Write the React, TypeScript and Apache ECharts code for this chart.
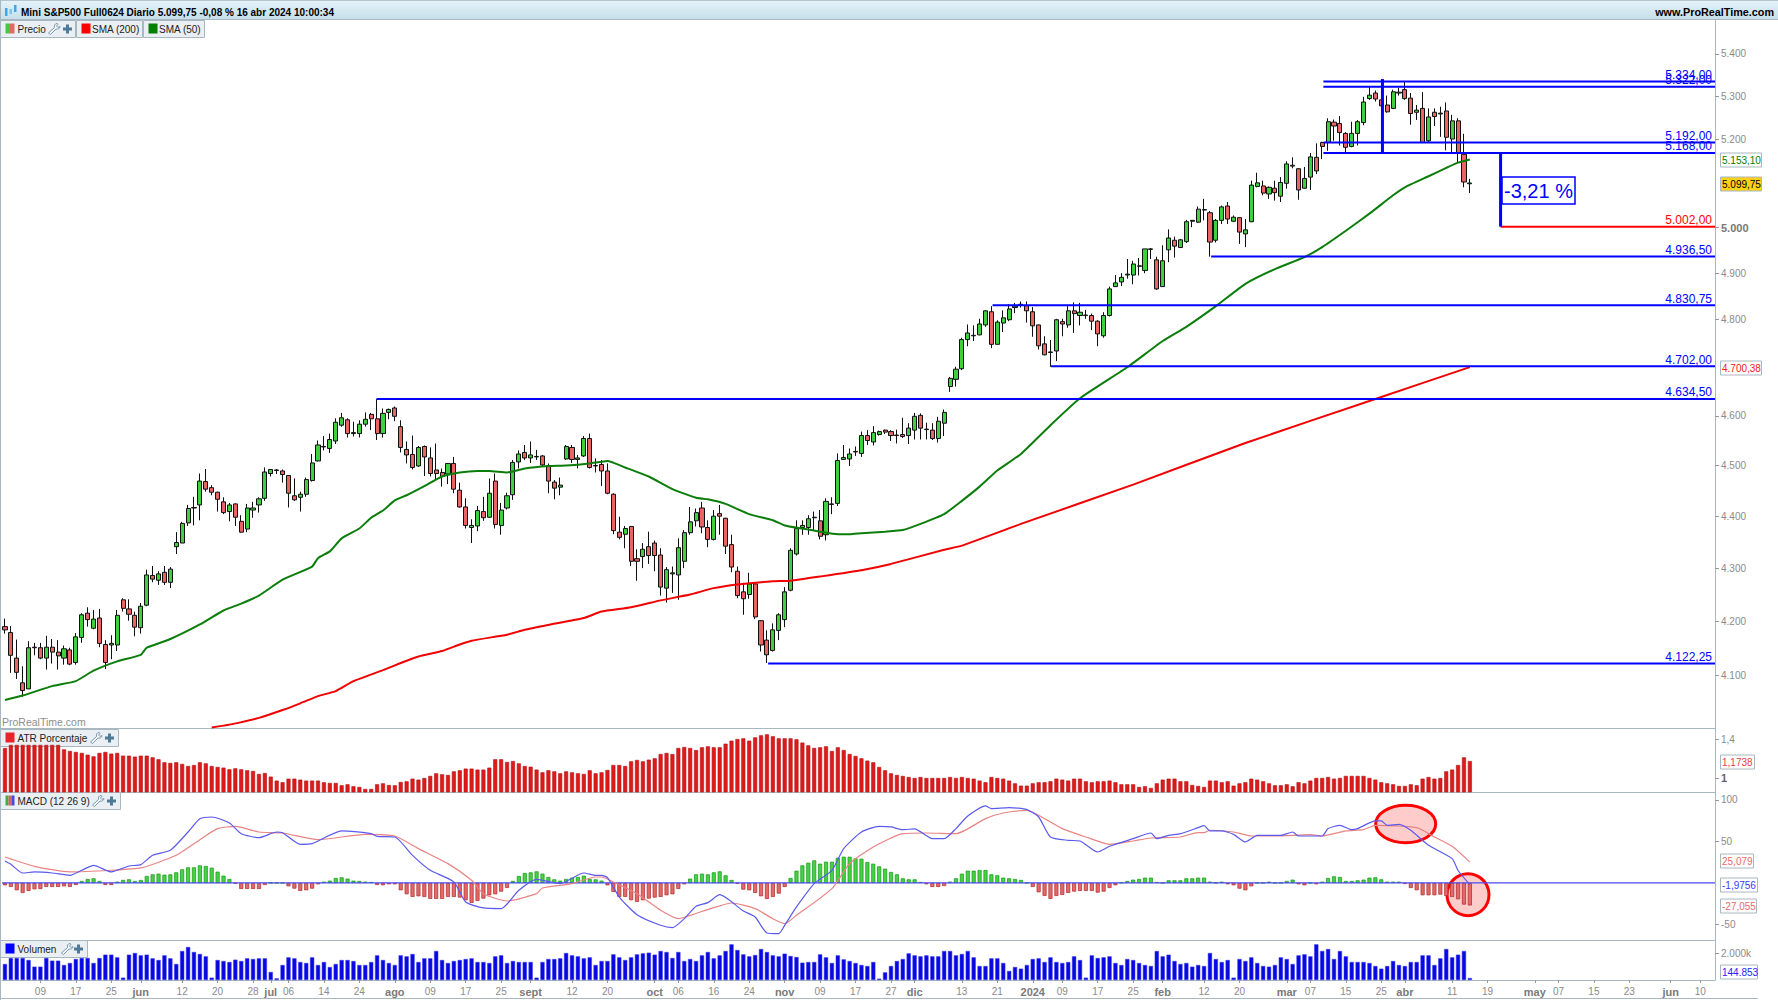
import React, { useEffect, useRef } from "react";
import * as echarts from "echarts";

const opens = [4190,4179,4132,4087,4076,4151,4151,4132,4152,4143,
4132,4147,4124,4170,4215,4187,4206,4157,4156,4156,
4240,4223,4211,4188,4230,4286,4277,4292,4273,4341,
4348,4387,4416,4422,4468,4456,4447,4428,4409,4424,
4390,4375,4412,4422,4435,4484,4490,4489,4480,4440,
4437,4443,4470,4509,4537,4534,4549,4581,4592,4564,
4564,4583,4603,4594,4564,4607,4616,4578,4532,4522,
4499,4538,4515,4491,4486,4483,4504,4451,4418,4378,
4381,4409,4398,4469,4382,4416,4442,4507,4526,4515,
4517,4519,4499,4467,4457,4513,4536,4512,4519,4554,
4499,4502,4489,4443,4369,4365,4380,4318,4322,4341,
4348,4325,4262,4289,4287,4313,4368,4391,4416,4378,
4355,4405,4396,4345,4294,4255,4250,4270,4201,4165,
4146,4183,4203,4258,4327,4378,4378,4397,4391,4364,
4423,4425,4512,4513,4527,4524,4560,4547,4562,4571,
4568,4561,4562,4560,4571,4601,4572,4571,4554,4585,
4660,4675,4697,4758,4766,4768,4789,4817,4748,4793,
4800,4826,4831,4830,4817,4789,4749,4732,4734,4796,
4789,4819,4809,4809,4809,4797,4766,4809,4871,4881,
4896,4896,4915,4906,4952,4929,4871,4951,4972,4956,
4969,5014,5012,5039,5033,4972,5016,5048,5014,5022,
4986,5013,5092,5093,5075,5088,5070,5099,5138,5132,
5088,5113,5158,5192,5192,5239,5236,5213,5183,5213,
5238,5294,5307,5291,5279,5271,5307,5315,5295,5262,
5271,5196,5262,5258,5265,5200,5242,5165,5098];

const closes = [4184,4137,4106,4073,4151,4152,4132,4152,4143,4136,
4149,4121,4171,4212,4203,4204,4159,4124,4159,4211,
4224,4213,4189,4228,4287,4279,4289,4273,4298,4349,
4386,4415,4417,4469,4453,4447,4433,4407,4422,4398,
4369,4416,4416,4434,4487,4492,4491,4482,4445,4432,
4443,4472,4505,4541,4538,4552,4587,4596,4564,4566,
4583,4593,4594,4564,4605,4613,4599,4536,4521,4496,
4536,4517,4484,4484,4478,4504,4453,4418,4382,4382,
4411,4397,4445,4384,4412,4440,4506,4523,4515,4521,
4518,4501,4469,4455,4461,4538,4512,4515,4554,4496,
4500,4489,4445,4372,4359,4376,4313,4313,4336,4324,
4324,4264,4297,4291,4339,4368,4389,4407,4379,4355,
4400,4400,4342,4302,4248,4242,4270,4208,4156,4138,
4184,4212,4255,4334,4376,4382,4395,4398,4361,4429,
4424,4510,4516,4523,4528,4560,4550,4566,4568,4567,
4560,4560,4558,4575,4599,4575,4573,4554,4589,4607,
4677,4696,4758,4772,4767,4791,4819,4748,4795,4804,
4823,4829,4833,4819,4787,4745,4726,4731,4800,4791,
4819,4813,4816,4810,4797,4770,4809,4866,4879,4891,
4898,4920,4916,4953,4953,4866,4927,4977,4959,4973,
5013,5016,5041,5040,4968,5016,5046,5019,5023,4990,
4995,5095,5100,5077,5090,5078,5101,5143,5140,5084,
5110,5159,5127,5183,5240,5230,5215,5181,5213,5240,
5286,5302,5293,5277,5263,5310,5309,5294,5259,5267,
5192,5251,5252,5260,5204,5242,5167,5102,5099.75];

const highs = [4205,4191,4166,4117,4163,4160,4160,4173,4167,4165,
4155,4151,4178,4215,4226,4221,4223,4165,4174,4221,
4243,4241,4218,4234,4297,4304,4294,4304,4302,4369,
4389,4422,4438,4484,4493,4461,4448,4437,4426,4425,
4402,4424,4428,4437,4496,4493,4493,4492,4481,4474,
4448,4476,4523,4550,4559,4564,4595,4606,4595,4588,
4591,4607,4606,4634,4615,4615,4619,4591,4548,4560,
4539,4540,4536,4544,4494,4505,4517,4466,4435,4394,
4420,4438,4474,4484,4426,4446,4511,4530,4541,4548,
4531,4521,4504,4471,4476,4541,4541,4521,4559,4564,
4514,4511,4504,4445,4399,4381,4381,4336,4348,4370,
4353,4338,4302,4303,4357,4373,4418,4415,4428,4392,
4412,4422,4397,4364,4303,4272,4291,4272,4202,4183,
4196,4215,4264,4338,4392,4392,4402,4409,4412,4435,
4437,4524,4541,4534,4538,4568,4571,4579,4570,4572,
4571,4572,4596,4585,4606,4605,4586,4585,4598,4613,
4680,4701,4762,4790,4788,4802,4820,4829,4799,4820,
4833,4836,4839,4839,4827,4790,4765,4757,4802,4802,
4829,4837,4836,4821,4813,4799,4816,4871,4896,4900,
4931,4927,4933,4953,4955,4936,4961,4996,4980,4975,
5017,5017,5047,5064,5037,5019,5049,5057,5027,5023,
5019,5105,5123,5105,5092,5105,5113,5149,5158,5133,
5136,5168,5190,5194,5248,5245,5253,5216,5240,5244,
5298,5322,5313,5334,5301,5315,5319,5335,5307,5279,
5309,5271,5271,5275,5285,5256,5248,5212,5109];

const lows = [4177,4105,4094,4062,4076,4137,4130,4111,4122,4111,
4120,4119,4120,4160,4190,4185,4152,4112,4130,4145,
4218,4201,4172,4177,4228,4273,4268,4268,4262,4327,
4348,4381,4382,4392,4448,4441,4409,4404,4390,4381,
4368,4369,4397,4407,4430,4478,4483,4466,4417,4430,
4409,4438,4468,4508,4530,4525,4543,4578,4556,4558,
4556,4578,4571,4551,4556,4593,4589,4526,4504,4492,
4497,4479,4478,4472,4458,4463,4445,4417,4376,4348,
4371,4391,4397,4376,4364,4413,4432,4494,4511,4505,
4511,4499,4445,4433,4441,4511,4505,4494,4517,4494,
4486,4459,4443,4365,4355,4338,4304,4276,4300,4308,
4294,4248,4235,4253,4240,4300,4364,4380,4367,4340,
4353,4364,4327,4292,4243,4212,4242,4204,4144,4123,
4144,4165,4189,4256,4324,4364,4364,4373,4355,4353,
4404,4420,4511,4499,4519,4517,4541,4540,4560,4563,
4549,4544,4555,4543,4552,4552,4552,4551,4546,4559,
4649,4660,4694,4744,4755,4767,4785,4740,4748,4774,
4797,4814,4826,4794,4764,4737,4725,4701,4713,4765,
4783,4772,4788,4802,4778,4744,4762,4807,4870,4872,
4888,4876,4895,4900,4931,4864,4870,4924,4934,4955,
4966,5001,5010,5016,4936,4967,5008,5008,5012,4964,
4957,5012,5090,5072,5064,5060,5057,5087,5133,5062,
5087,5084,5120,5154,5173,5196,5185,5170,5181,5185,
5232,5291,5287,5267,5261,5270,5301,5291,5233,5244,
5192,5192,5230,5205,5174,5168,5147,5090,5077];

const sma50Slots = [0,3,8,12,15,19,23,24,28,33,37,40,43,47,52,53,55,57,60,62,64,66,68,71,74,77,80,82,85,88,92,95,99,102,105,109,113,117,119,122,126,130,132,135,138,141,143,145,149,152,155,159,162,165,168,172,177,182,190,196,200,205,210,215,220,223,227,231,235,237,241,244,246,248];
const sma50Values = [4056,4064,4081,4090,4109,4126,4138,4151,4167,4194,4220,4233,4248,4278,4303,4319,4332,4357,4376,4397,4411,4431,4441,4459,4478,4486,4489,4489,4486,4494,4499,4500,4504,4509,4496,4478,4453,4436,4433,4424,4404,4392,4382,4376,4370,4365,4365,4367,4370,4373,4385,4404,4430,4458,4490,4523,4581,4636,4700,4755,4785,4829,4877,4909,4935,4957,4993,5031,5072,5090,5115,5134,5146,5153.1];
const sma200Slots = [35,38,43,47,50,53,56,59,64,67,70,74,77,79,85,88,92,98,101,106,111,116,120,124,130,133,138,145,150,159,162,172,191,210,232,248];
const sma200Values = [4007,4012,4024,4038,4050,4063,4072,4090,4110,4123,4135,4145,4157,4164,4175,4184,4193,4206,4218,4226,4239,4250,4262,4269,4275,4276,4284,4296,4308,4335,4343,4385,4462,4545,4634.5,4700.38];

const atrValues = [1.308,1.339,1.339,1.339,1.339,1.339,1.339,1.339,1.339,1.339,1.294,1.277,1.267,1.257,1.239,1.222,1.257,1.267,1.25,1.257,1.229,1.229,1.219,1.229,1.229,1.212,1.192,1.161,1.154,1.161,1.144,1.123,1.133,1.161,1.15,1.123,1.113,1.106,1.089,1.099,1.089,1.079,1.072,1.041,1.051,1.014,.973,.956,.993,.993,.983,.973,.973,.973,.956,.949,.949,.925,.935,.915,.908,.887,.887,.935,.945,.928,.925,.959,.966,.993,.983,1.0,1.021,1.048,1.038,1.031,1.068,1.079,1.096,1.096,1.086,1.086,1.106,1.192,1.192,1.164,1.174,1.15,1.123,1.116,1.086,1.058,1.079,1.068,1.048,1.068,1.058,1.048,1.041,1.079,1.048,
1.058,1.082,1.133,1.133,1.123,1.171,1.185,1.171,1.188,1.202,1.246,1.257,1.246,1.308,1.318,1.308,1.287,1.315,1.325,1.315,1.315,1.352,1.383,1.4,1.407,1.383,1.417,1.438,1.448,1.428,1.407,1.407,1.407,1.397,1.363,1.335,1.308,1.315,1.325,1.277,1.315,1.287,1.246,1.226,1.202,1.178,1.161,1.113,1.079,1.048,1.031,1.021,1.01,1.0,1.01,1.0,1.0,1.0,1.0,1.01,1.0,1.01,1.0,.993,.973,.956,1.01,1.0,.993,.973,.945,.921,.921,.945,.956,.956,.966,.993,.983,.973,.993,.993,.966,.956,.966,.966,.973,.956,.935,.935,.935,.908,.915,.897,.945,.983,.993,.993,.966,.966,.928,.918,
.908,.973,.973,.956,.966,.921,.945,.956,.993,.983,.966,.945,.925,.925,.935,.915,.956,.945,.973,1.0,1.0,1.01,.993,1.0,1.021,1.021,1.021,1.021,1.0,.983,.956,.945,.935,.918,.918,.935,.925,.993,1.01,.993,1.0,1.068,1.086,1.133,1.212,1.1738];

const macdHist = [-2.8,-4.8,-8.8,-12,-9.6,-7.6,-7.2,-4.8,-4.8,-4.8,-4,-4.8,-2.4,2.4,4.8,5.6,2.4,-2.4,-2.4,1.6,3.6,4.4,2.4,3.6,8.4,10.4,11.2,10,10.4,12.8,16.4,18.8,18.8,21.2,20.4,18.4,13.6,8.8,4.8,-.8,-7.2,-7.2,-7.2,-7.2,-2.4,0,0,0,-4,-6.8,-9.6,-8.8,-6.8,-1.6,1.6,2.8,6,6.8,5.2,2.8,2.4,1.6,1.2,-2.4,-2.8,-1.6,-1.6,-8.8,-13.6,-16.8,-16,-16.8,-19.2,-19.2,-19.2,-16.8,-16.8,-17.6,-20.8,-24,-21.6,-18.8,-14.8,-13.6,-10.4,-6,2.4,8.4,12,12.8,14,11.2,7.2,4.4,2.8,4.8,6.4,7.2,8.8,4.8,4.4,
2.8,-2.8,-10.8,-16.8,-16.8,-20.8,-22.8,-20.8,-18.8,-17.6,-16.8,-14.8,-13.6,-7.2,-1.6,5.2,10.4,11.2,10.4,12.8,14,9.2,3.6,-.8,-8,-8.8,-12,-16,-19.2,-16.8,-12.8,-4.8,6,14.8,21.2,24.4,27.2,23.2,25.6,25.6,30.4,31.6,31.6,29.6,29.2,25.2,23.2,20,17.2,13.2,10.4,5.6,4.4,4.4,1.2,-1.6,-4.8,-4.8,-3.6,1.6,5.6,11.2,14.8,14.8,15.6,15.6,10.4,9.2,6.4,5.6,4.8,3.6,0,-4.8,-11.2,-15.6,-19.2,-15.6,-14.4,-12,-10.4,-9.6,-9.6,-9.6,-11.6,-10.4,-6,-2.8,.4,2.4,4,4.8,6.4,6.4,1.2,0,3.2,3.2,3.2,5.6,5.6,6.4,
6.4,1.6,0,1.6,-1.6,-2.8,-6.8,-8.8,-4,0,0,1.6,0,0,2.4,4,-1.6,-2.8,0,-1.6,1.6,6,8,7.2,2.4,2.4,3.2,4,6.4,6.8,4.4,1.6,1.6,1.6,-1.2,-6,-8.8,-14.8,-14.8,-14.8,-14,-15.6,-16.8,-19.6,-26,-27.055];

const macdSlots = [0,1,3,5,8,11,13,15,18,21,23,25,28,31,33,35,38,40,43,46,47,50,52,57,62,63,66,69,72,76,78,81,84,87,90,94,98,100,
101,102,104,107,111,113,115,117,119,121,125,127,129,131,132,134,137,140,142,145,148,150,152,154,157,159,161,163,166,167,170,173,175,177,180,182,185,187,191,194,195,197,199,202,
203,204,206,208,210,212,216,218,219,223,224,226,228,229,232,233,234,236,238,241,245,246,248];
const macdValues = [26.5,22.5,12,13.3,12,9.2,15.3,21.3,13.3,20.5,22.1,33.3,39.4,61.4,77.5,79.5,72.3,59.4,54.6,61.4,60.6,46.6,47.4,62.7,59.4,56.2,55.4,33.3,15.3,1.2,-22.9,-30.1,-30.9,-8.8,4.4,-.8,12,9.2,
9.2,6.4,-16.9,-38.2,-51,-53.8,-43,-28.1,-23.7,-14.1,-33.7,-41,-60.2,-61,-51,-28.9,-.8,15.3,41.4,61.4,68.3,67.5,64.3,65.1,53.4,53.4,65.5,80.7,92.8,89.6,90.8,88.4,79.5,55.4,51.4,50.6,37.3,44.2,53.4,60.2,53.4,57.4,59.4,66.7,
69.1,62.7,62.7,58.6,49.4,57.4,57.4,61.4,56.6,56.6,65.5,69.5,64.3,65.5,74.7,74.7,69.5,70.7,63.5,45.4,29.3,15,-1.9756];
const signalSlots = [0,5,11,18,23,29,33,36,39,43,47,53,61,66,70,75,79,81,85,90,91,96,100,
101,103,107,111,114,116,120,123,127,130,132,134,140,143,147,152,156,161,166,169,173,175,179,183,187,191,194,199,202,
203,204,208,211,215,221,223,227,230,232,239,242,245,248];
const signalValues = [31.3,20.1,13.3,15.3,18.1,33.3,52.2,65.5,68.3,61.4,60.2,52.2,58.6,56.6,41.4,23.3,3.2,-12.9,-21.7,-12.9,-6,-.8,7.2,
7.2,1.2,-12.9,-32.9,-43,-39,-29.7,-24.1,-30.9,-43,-49,-39,-6.8,23.3,43.4,59.4,60.2,59.4,77.5,84.3,87.5,81.5,65.5,55.4,46.6,50.6,54.2,55.4,60.6,
60.6,63.5,61.4,56.6,56.6,58.2,56.6,62.7,64.3,69.5,66.7,55.4,44.2,25.079];

const volumes = [1186,1630,1630,1630,1482,988,988,1630,1433,1433,1112,1260,1556,1630,1630,1260,1630,1877,1877,1680,173,1877,2001,1828,1877,1606,1482,1828,1606,1186,2149,2445,2075,1927,1754,173,1482,1408,1334,1507,1408,1606,1556,1606,1606,593,124,1112,1680,1606,1334,1260,1680,1112,1334,963,1186,1482,1482,1408,1112,1112,1334,1828,1482,1260,1112,1828,1754,1927,1334,1606,1606,2149,1482,1260,1408,1482,1556,1606,1334,1334,1260,1754,1828,1260,1408,1334,1334,1334,173,1334,1556,1556,1606,2001,1828,1754,1606,1680,1112,
1408,1408,1902,1680,1482,1680,1902,1976,2025,1877,2149,2075,1630,2075,1408,1556,1408,1828,2075,1606,1828,2149,2643,2223,1902,1754,1853,2297,2075,1828,1754,1951,1778,1704,1284,1334,1334,1902,1680,1260,1828,1531,1408,1260,1112,1037,1334,99,568,1037,1408,1556,1976,1828,1754,1828,1754,1754,2149,2149,1828,1927,2149,1680,1037,1037,1606,1606,1260,667,963,840,1112,1556,1606,1334,1680,1334,1260,1334,1754,1482,173,1828,1630,1680,1754,1260,1112,1556,1482,1260,1112,1037,2149,1754,1877,1408,1186,1260,988,1112,
1037,2001,1556,1334,1482,173,1556,1408,1680,1260,1037,988,1112,1680,1556,1186,1828,1902,1754,2643,2149,2297,1556,2149,1754,1334,1334,1334,1260,1037,840,1037,1408,1112,1037,1334,1334,1828,1828,1112,1606,2297,1680,1877,2149,144.853];

const tickSlots = [6,12,18,23,30,36,42,45,48,54,60,66,72,78,84,89,96,102,110,114,120,126,132,138,144,150,154,162,168,174,179,185,191,196,203,209,217,221,227,233,237,245,251,259,263,269,275,282,287];
const tickLabels = ["09","17","25","jun","12","20","28","jul","06","14","24","ago","09","17","25","sept","12","20","oct","06","16","24","nov","09","17","27","dic","13","21","2024","09","17","25","feb","12","20","mar","07","15","25","abr","11","19","may","07","15","23","jun","10"];
const boldLabels = ["jun","jul","ago","sept","oct","nov","dic","2024","feb","mar","abr","may"];

const priceTicks = [5400,5300,5200,5000,4900,4800,4600,4500,4400,4300,4200,4100];
const atrTicks = [1.4,1];
const macdTicks = [100,50,-50];
const volumeTicks = [2000];

const levelPrices = [5334,5322,5192,5168,5002,4936.5,4830.75,4702,4634.5,4122.25];
const levelStarts = [223.2,223.2,223.2,223.2,253.2,204.2,167.2,177.1,62.9,129.2];
const levelLabels = ["5.334,00","5.322,00","5.192,00","5.168,00","5.002,00","4.936,50","4.830,75","4.702,00","4.634,50","4.122,25"];
const levelColors = ["#0000ff","#0000ff","#0000ff","#0000ff","#ff0000","#0000ff","#0000ff","#0000ff","#0000ff","#0000ff"];
const spanSlots = [233.2,253.2];
const spanTops = [5340,5168];
const spanBottoms = [5168,5002];

const SLOTS = 290;
const FONT = "'Liberation Sans', Arial, sans-serif";
const GRID_LINE = "#a9b8c0";
const lg = (p: number) => Math.log(p);
const esNum = (v: number) => String(v).replace(/\B(?=(\d{3})+(?!\d))/g, ".");
const categories = Array.from({ length: SLOTS }, (_, i) => {
  const k = tickSlots.indexOf(i);
  return k >= 0 ? tickLabels[k] : "";
});
const tickSet = new Set(tickSlots);
const pairs = (xs: number[], ys: number[], f = (v: number) => v) => xs.map((x, i) => [x, f(ys[i])]);

function legendBox(x: number, y: number, w: number, label: string, swatch: string[], icons: number[] | null) {
  const children: any[] = [
    { type: "rect", shape: { x, y, width: w, height: 17 }, style: { fill: "#e9eff3", stroke: GRID_LINE, lineWidth: 1 } },
  ];
  const sw = 9 / swatch.length;
  swatch.forEach((c, i) => {
    children.push({ type: "rect", shape: { x: x + 5 + i * sw, y: y + 3, width: sw, height: 10 }, style: { fill: c } });
  });
  if (label) {
    children.push({
      type: "text",
      style: { x: x + 17, y: y + 9, text: label, fill: "#222", font: `10px ${FONT}`, verticalAlign: "middle", align: "left" },
    });
  }
  if (icons) {
    children.push({ type: "wrench", x: icons[0], y: y + 3, style: { fill: "#f4f7f9", stroke: "#6d8ea6", lineWidth: 0.9 } });
    children.push({
      type: "polygon",
      shape: { points: [[3, 0], [6, 0], [6, 3], [9, 3], [9, 6], [6, 6], [6, 9], [3, 9], [3, 6], [0, 6], [0, 3], [3, 3]].map((p) => [p[0] + icons[1], p[1] + y + 4]) },
      style: { fill: "#4d7a99" },
    });
  }
  return children;
}

function tag(cy: number, w: number, text: string, color: string, bg = "#ffffff", bold = false) {
  return [
    { type: "rect", shape: { x: 1720.5, y: cy - 7, width: w, height: 14 }, style: { fill: bg, stroke: "#a9b8c0", lineWidth: 1 } },
    { type: "text", style: { x: 1722, y: cy, text, fill: color, font: `${bold ? "bold " : ""}10px ${FONT}`, verticalAlign: "middle", align: "left" } },
  ];
}

const App = () => {
  const ref = useRef<HTMLDivElement>(null);
  useEffect(() => {
    if (!ref.current) return;
    echarts.graphic.registerShape(
      "wrench",
      echarts.graphic.extendPath("M9 0 C7 0 6 2 6.5 4 L0.5 9.5 L2.5 11 L8 5.5 C10 6 12 5 12 3 L10 4 L8.5 2.5 L10 0.8 Z", {})
    );
    const chart = echarts.init(ref.current, undefined, { renderer: "svg" });
    const candleData = opens.map((o, i) => [lg(o), lg(closes[i]), lg(lows[i]), lg(highs[i])]);
    const levelRows = levelPrices.map((p, i) => [levelStarts[i], SLOTS - 0.5, lg(p)]);
    const spanRows = spanSlots.map((s, i) => [s, lg(spanTops[i]), lg(spanBottoms[i])]);
    const hiddenCat = (gridIndex: number) => ({ type: "category", gridIndex, data: categories, show: false, boundaryGap: true });
    const hiddenVal = (gridIndex: number) => ({ type: "value", gridIndex, min: -0.5, max: SLOTS - 0.5, show: false });
    const yAxisBase = {
      position: "right",
      splitLine: { show: false },
      axisLine: { show: true, onZero: false, lineStyle: { color: GRID_LINE, width: 1 } },
      axisTick: { show: true, length: 4, lineStyle: { color: "#999" } },
    };
    const labelBase = { color: "#8a8a8a", fontSize: 10, fontFamily: FONT, margin: 6 };

    const option: any = {
      animation: false,
      backgroundColor: "#ffffff",
      grid: [
        { left: 2, right: 63, top: 20, height: 708 },
        { left: 2, right: 63, top: 728, height: 64 },
        { left: 2, right: 63, top: 792, height: 148 },
        { left: 2, right: 63, top: 940, height: 40 },
      ],
      xAxis: [
        hiddenCat(0),
        hiddenCat(1),
        hiddenCat(2),
        {
          type: "category",
          gridIndex: 3,
          data: categories,
          boundaryGap: true,
          axisLine: { show: true, lineStyle: { color: GRID_LINE } },
          axisTick: { show: true, alignWithLabel: true, length: 3, interval: (i: number) => tickSet.has(i), lineStyle: { color: "#999" } },
          axisLabel: {
            interval: (i: number) => tickSet.has(i),
            hideOverlap: false,
            margin: 6,
            color: "#8a8a8a",
            fontSize: 10,
            fontFamily: FONT,
            formatter: (v: string) => (boldLabels.includes(v) ? `{m|${v}}` : v),
            rich: { m: { fontWeight: "bold", fontSize: 11, color: "#7a7a7a", fontFamily: FONT } },
          },
        },
        hiddenVal(0),
        hiddenVal(2),
      ],
      yAxis: [
        {
          ...yAxisBase,
          type: "value",
          gridIndex: 0,
          min: lg(4006),
          max: lg(5481.5),
          axisLabel: {
            ...labelBase,
            customValues: priceTicks.map(lg),
            formatter: (v: number) => {
              const p = Math.round(Math.exp(v));
              return p === 5000 ? `{b|${esNum(p)}}` : esNum(p);
            },
            rich: { b: { fontWeight: "bold", fontSize: 11, color: "#777", fontFamily: FONT } },
          },
          axisTick: { ...yAxisBase.axisTick, customValues: priceTicks.map(lg) },
        },
        {
          ...yAxisBase,
          type: "value",
          gridIndex: 1,
          min: 0.856,
          max: 1.513,
          axisLabel: {
            ...labelBase,
            customValues: atrTicks,
            formatter: (v: number) => (v === 1 ? "{b|1}" : String(v).replace(".", ",")),
            rich: { b: { fontWeight: "bold", fontSize: 11, color: "#666", fontFamily: FONT } },
          },
          axisTick: { ...yAxisBase.axisTick, customValues: atrTicks },
        },
        {
          ...yAxisBase,
          type: "value",
          gridIndex: 2,
          min: -68.7,
          max: 109.6,
          axisLabel: { ...labelBase, customValues: macdTicks },
          axisTick: { ...yAxisBase.axisTick, customValues: macdTicks },
        },
        {
          ...yAxisBase,
          type: "value",
          gridIndex: 3,
          min: 0,
          max: 2964,
          axisLabel: { ...labelBase, customValues: volumeTicks, formatter: (v: number) => `${esNum(v)}k` },
          axisTick: { ...yAxisBase.axisTick, customValues: volumeTicks },
        },
      ],
      series: [
        {
          name: "Precio",
          type: "candlestick",
          xAxisIndex: 0,
          yAxisIndex: 0,
          data: candleData,
          barWidth: 4.6,
          itemStyle: { color: "#3fd03f", color0: "#e96464", borderColor: "#101010", borderColor0: "#101010", borderWidth: 1 },
          z: 2,
        },
        {
          name: "SMA (50)",
          type: "line",
          xAxisIndex: 4,
          yAxisIndex: 0,
          data: pairs(sma50Slots, sma50Values, lg),
          showSymbol: false,
          smooth: 0.15,
          lineStyle: { color: "#0a7d0a", width: 2 },
          z: 3,
        },
        {
          name: "SMA (200)",
          type: "line",
          xAxisIndex: 4,
          yAxisIndex: 0,
          data: pairs(sma200Slots, sma200Values, lg),
          showSymbol: false,
          smooth: 0.15,
          lineStyle: { color: "#f00000", width: 2 },
          z: 3,
        },
        {
          name: "Niveles",
          type: "custom",
          xAxisIndex: 4,
          yAxisIndex: 0,
          data: levelRows,
          encode: { x: [0, 1], y: 2 },
          z: 4,
          renderItem: (params: any, api: any) => {
            const i = params.dataIndex;
            const a = api.coord([api.value(0), api.value(2)]);
            const b = api.coord([api.value(1), api.value(2)]);
            return {
              type: "group",
              children: [
                { type: "line", shape: { x1: a[0], y1: a[1], x2: b[0], y2: b[1] }, style: { stroke: levelColors[i], lineWidth: 2 } },
                {
                  type: "text",
                  style: { x: b[0] - 3, y: b[1] - 0.5, text: levelLabels[i], fill: levelColors[i], font: `12px ${FONT}`, align: "right", verticalAlign: "bottom" },
                },
              ],
            };
          },
        },
        {
          name: "Tramos",
          type: "custom",
          xAxisIndex: 4,
          yAxisIndex: 0,
          data: spanRows,
          encode: { x: 0, y: [1, 2] },
          z: 4,
          renderItem: (_: any, api: any) => {
            const a = api.coord([api.value(0), api.value(1)]);
            const b = api.coord([api.value(0), api.value(2)]);
            return { type: "line", shape: { x1: a[0], y1: a[1], x2: b[0], y2: b[1] }, style: { stroke: "#0000ff", lineWidth: 3 } };
          },
        },
        {
          name: "ATR Porcentaje",
          type: "bar",
          xAxisIndex: 1,
          yAxisIndex: 1,
          data: atrValues,
          barWidth: 4,
          itemStyle: { color: "#e01a1a", borderColor: "#b01010", borderWidth: 0.6 },
        },
        {
          name: "MACD hist",
          type: "bar",
          xAxisIndex: 2,
          yAxisIndex: 2,
          barWidth: 4,
          data: macdHist.map((v) => ({
            value: v,
            itemStyle: v >= 0
              ? { color: "#48d048", borderColor: "#0f9a0f", borderWidth: 0.7 }
              : { color: "#e36a6a", borderColor: "#b02525", borderWidth: 0.7 },
          })),
        },
        {
          name: "Cero",
          type: "line",
          xAxisIndex: 5,
          yAxisIndex: 2,
          data: [[-0.5, 0], [SLOTS - 0.5, 0]],
          showSymbol: false,
          lineStyle: { color: "#4a4aee", width: 1.2 },
          z: 3,
        },
        {
          name: "Signal",
          type: "line",
          xAxisIndex: 5,
          yAxisIndex: 2,
          data: pairs(signalSlots, signalValues),
          showSymbol: false,
          smooth: 0.2,
          lineStyle: { color: "#e88484", width: 1.2 },
          z: 4,
        },
        {
          name: "MACD",
          type: "line",
          xAxisIndex: 5,
          yAxisIndex: 2,
          data: pairs(macdSlots, macdValues),
          showSymbol: false,
          smooth: 0.2,
          lineStyle: { color: "#5a5aee", width: 1.2 },
          z: 4,
        },
        {
          name: "Volumen",
          type: "bar",
          xAxisIndex: 3,
          yAxisIndex: 3,
          data: volumes,
          barWidth: 4.2,
          itemStyle: { color: "#0808e0", borderColor: "#3a3af0", borderWidth: 0.5 },
        },
      ],
      graphic: [
        {
          type: "group",
          z: 100,
          silent: true,
          children: [
            { type: "rect", shape: { x: 0, y: 0, width: 1778, height: 19 }, style: { fill: new echarts.graphic.LinearGradient(0, 0, 0, 1, [{ offset: 0, color: "#e6f3f9" }, { offset: 1, color: "#c6dfeb" }]) } },
            { type: "line", shape: { x1: 0, y1: 0.5, x2: 1778, y2: 0.5 }, style: { stroke: "#b5c5cc", lineWidth: 1 } },
            { type: "line", shape: { x1: 0, y1: 19.5, x2: 1778, y2: 19.5 }, style: { stroke: GRID_LINE, lineWidth: 1 } },
            { type: "rect", shape: { x: 5, y: 8, width: 2.5, height: 8 }, style: { fill: "#3aa8e8" } },
            { type: "rect", shape: { x: 9.5, y: 9, width: 2.5, height: 5 }, style: { fill: "#7cc6ee" } },
            { type: "rect", shape: { x: 14, y: 5, width: 2.5, height: 7 }, style: { fill: "#3aa8e8" } },
            { type: "text", style: { x: 21, y: 12, text: "Mini S&P500 Full0624 Diario 5.099,75 -0,08 % 16 abr 2024 10:00:34", fill: "#000", font: `bold 10px ${FONT}`, verticalAlign: "middle", align: "left" } },
            { type: "text", style: { x: 1774, y: 12, text: "www.ProRealTime.com", fill: "#000", font: `bold 10.8px ${FONT}`, verticalAlign: "middle", align: "right" } },
            { type: "line", shape: { x1: 0.5, y1: 0, x2: 0.5, y2: 1000 }, style: { stroke: GRID_LINE, lineWidth: 1 } },
            { type: "line", shape: { x1: 0, y1: 728.5, x2: 1715, y2: 728.5 }, style: { stroke: GRID_LINE, lineWidth: 1 } },
            { type: "line", shape: { x1: 0, y1: 792.5, x2: 1715, y2: 792.5 }, style: { stroke: GRID_LINE, lineWidth: 1 } },
            { type: "line", shape: { x1: 0, y1: 940.5, x2: 1715, y2: 940.5 }, style: { stroke: GRID_LINE, lineWidth: 1 } },
            { type: "line", shape: { x1: 0, y1: 998.5, x2: 1758, y2: 998.5 }, style: { stroke: GRID_LINE, lineWidth: 1 } },
            ...legendBox(0.5, 20.5, 75, "Precio", ["#46c846", "#e96464"], [48, 63]),
            ...legendBox(76.5, 20.5, 66, "", ["#ff0000"], null),
            { type: "text", style: { x: 92, y: 29.5, text: "SMA (200)", fill: "#222", font: `10px ${FONT}`, verticalAlign: "middle", align: "left" } },
            ...legendBox(143.5, 20.5, 61, "", ["#008000"], null),
            { type: "text", style: { x: 159, y: 29.5, text: "SMA (50)", fill: "#222", font: `10px ${FONT}`, verticalAlign: "middle", align: "left" } },
            ...legendBox(0.5, 729.5, 118, "ATR Porcentaje", ["#e8232a"], [90, 105]),
            ...legendBox(0.5, 792.5, 120, "MACD (12 26 9)", ["#3fb03f", "#d96060", "#4a4ad8"], [92, 107]),
            ...legendBox(0.5, 940.5, 87, "Volumen", ["#0000ff"], [61, 74]),
            { type: "text", style: { x: 2, y: 722, text: "ProRealTime.com", fill: "#8d8d8d", font: `10.5px ${FONT}`, verticalAlign: "middle", align: "left" } },
            { type: "rect", shape: { x: 1502, y: 177, width: 73, height: 27 }, style: { fill: "#ffffff", stroke: "#0000ff", lineWidth: 1.5 } },
            { type: "text", style: { x: 1538.5, y: 191, text: "-3,21 %", fill: "#0000ff", font: `20px ${FONT}`, verticalAlign: "middle", align: "center" } },
            { type: "ellipse", shape: { cx: 1405.7, cy: 824, rx: 30, ry: 18.7 }, style: { fill: "rgba(255,0,0,0.2)", stroke: "#ff0000", lineWidth: 3 } },
            { type: "ellipse", shape: { cx: 1468, cy: 894.7, rx: 21, ry: 21 }, style: { fill: "rgba(255,0,0,0.2)", stroke: "#ff0000", lineWidth: 3 } },
            ...tag(160, 41, "5.153,10", "#008000"),
            ...tag(184, 41, "5.099,75", "#000000", "#ffd21a"),
            ...tag(368, 41, "4.700,38", "#ee2020"),
            ...tag(762, 34, "1,1738", "#ee4040"),
            ...tag(861, 33, "25,079", "#e86a6a"),
            ...tag(885, 37, "-1,9756", "#3a3aff"),
            ...tag(906, 36, "-27,055", "#e86a6a"),
            ...tag(972, 37, "144.853", "#2222ff"),
          ],
        },
      ],
    };
    chart.setOption(option);
    return () => chart.dispose();
  }, []);
  return <div ref={ref} style={{ position: "fixed", left: 0, top: 0, width: 1778, height: 1000 }} />;
};

export default App;
